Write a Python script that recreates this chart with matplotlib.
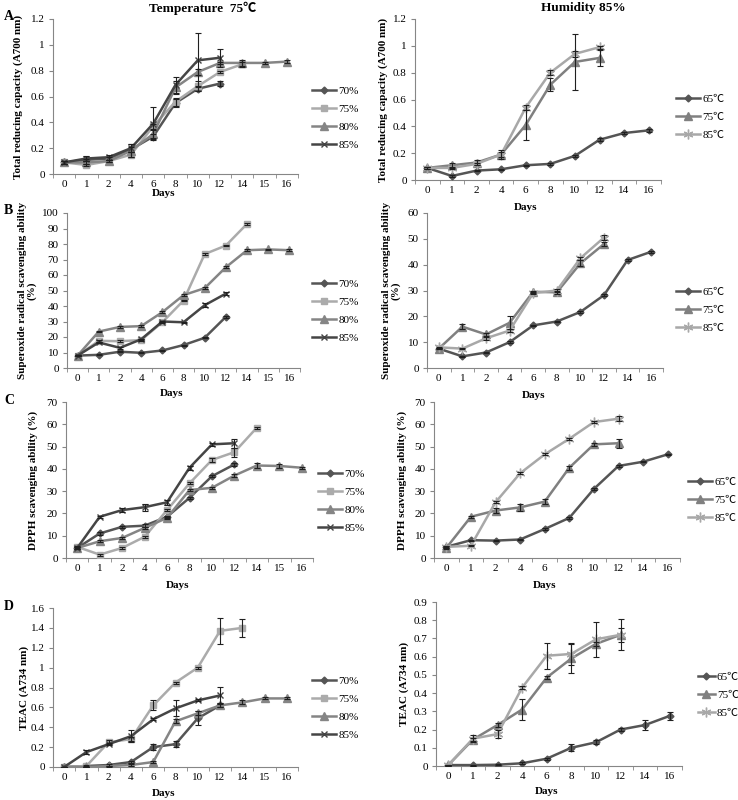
import numpy as np
import matplotlib.pyplot as plt
from matplotlib.ticker import FixedLocator, FuncFormatter

W, H = 738, 800

days_t = ['0', '1', '2', '4', '6', '8', '10', '12', '14', '15', '16']
days_h = ['0', '1', '2', '4', '6', '8', '10', '12', '14', '16']

hum_labels = ['70%', '75%', '80%', '85%']
temp_labels = ['65℃', '75℃', '85℃']

# A - total reducing capacity (A700 nm)
trc_t70 = [0.09, 0.11, 0.12, 0.19, 0.29, 0.55, 0.66, 0.70]
trc_t75 = [0.09, 0.07, 0.10, 0.15, 0.37, 0.56, 0.68, 0.79, 0.85]
trc_t80 = [0.09, 0.09, 0.10, 0.18, 0.31, 0.67, 0.79, 0.86, 0.86, 0.86, 0.87]
trc_t85 = [0.09, 0.12, 0.13, 0.20, 0.39, 0.69, 0.88, 0.90]
trc_t70_err = [0.01, 0.01, 0.01, 0.02, 0.02, 0.03, 0.02, 0.02]
trc_t75_err = [0.01, 0.01, 0.01, 0.02, 0.02, 0.03, 0.04, 0.01, 0.02]
trc_t80_err = [0.01, 0.01, 0.01, 0.05, 0.03, 0.05, 0.02, 0.01, 0.02, 0.01, 0.01]
trc_t85_err = [0.01, 0.02, 0.02, 0.03, 0.13, 0.06, 0.21, 0.07]

trc_h65 = [0.09, 0.03, 0.07, 0.08, 0.11, 0.12, 0.18, 0.30, 0.35, 0.37]
trc_h75 = [0.09, 0.11, 0.13, 0.19, 0.41, 0.71, 0.88, 0.91]
trc_h85 = [0.09, 0.09, 0.12, 0.19, 0.54, 0.80, 0.94, 0.99]
trc_h65_err = [0.005, 0.005, 0.005, 0.005, 0.005, 0.005, 0.01, 0.01, 0.01, 0.01]
trc_h75_err = [0.01, 0.02, 0.02, 0.03, 0.11, 0.05, 0.21, 0.06]
trc_h85_err = [0.01, 0.01, 0.01, 0.02, 0.02, 0.02, 0.02, 0.01]

# B - superoxide radical scavenging ability (%)
sup_t70 = [8, 8.5, 10.5, 9.8, 11.3, 14.8, 19.5, 33]
sup_t75 = [8, 17.5, 17.3, 18, 29.5, 43.5, 73.5, 79, 93]
sup_t80 = [8, 23.5, 26.5, 27, 36, 47, 51.5, 65, 76, 76.5, 76]
sup_t85 = [8, 16.5, 13, 18.5, 30, 29.5, 40.5, 48]
sup_t70_err = [0.3, 0.3, 0.3, 0.3, 0.3, 0.3, 0.4, 0.5]
sup_t75_err = [0.3, 0.5, 0.5, 0.5, 0.5, 0.5, 0.5, 0.5, 0.5]
sup_t80_err = [0.3, 0.5, 0.5, 0.5, 0.5, 0.5, 0.5, 0.5, 0.5, 0.5, 0.5]
sup_t85_err = [0.3, 0.5, 0.5, 0.5, 0.5, 0.5, 1.2, 1.0]

sup_h65 = [7.5, 4.5, 6, 10, 16.5, 18, 21.7, 28.2, 41.8, 45]
sup_h75 = [7.5, 16, 13, 17.5, 29.5, 29.3, 40.5, 48]
sup_h85 = [8, 7.5, 11.5, 14.5, 29, 30, 42.5, 50.5]
sup_h65_err = [0.3, 0.3, 0.3, 0.3, 0.3, 0.3, 0.3, 0.3, 0.3, 0.3]
sup_h75_err = [0.3, 1.0, 0.5, 2.5, 0.5, 0.5, 1.2, 0.8]
sup_h85_err = [0.3, 0.3, 0.5, 0.5, 0.5, 0.5, 0.5, 0.8]

# C - DPPH scavenging ability (%)
dpph_t70 = [4.5, 11, 14, 14.5, 18.5, 27, 36.7, 42]
dpph_t75 = [5, 1.5, 4.5, 9.5, 21.5, 33.5, 44, 47.5, 58.5]
dpph_t80 = [4.5, 7.5, 9, 13.5, 18, 30.5, 31.5, 37, 41.5, 41.3, 40.5]
dpph_t85 = [4.5, 18.5, 21.5, 22.8, 25, 40.5, 51, 51.5]
dpph_t70_err = [0.3, 0.5, 0.5, 0.8, 0.5, 0.5, 0.5, 0.5]
dpph_t75_err = [0.3, 0.5, 0.5, 0.5, 0.5, 0.5, 1.0, 2.0, 0.5]
dpph_t80_err = [0.3, 0.5, 0.5, 0.5, 0.5, 0.5, 0.5, 0.5, 1.0, 1.0, 0.5]
dpph_t85_err = [0.3, 0.5, 1.0, 1.5, 1.2, 0.8, 0.8, 2.0]

dpph_h65 = [5, 8, 7.8, 8.3, 13, 18, 31, 41.3, 43.2, 46.5]
dpph_h75 = [4.5, 18.5, 21.3, 22.7, 25.3, 40.5, 51, 51.5]
dpph_h85 = [5, 5.5, 25, 38, 46.5, 53.5, 61, 62.5]
dpph_h65_err = [0.3, 0.3, 0.3, 0.3, 0.3, 0.3, 0.3, 0.3, 0.3, 0.3]
dpph_h75_err = [0.3, 0.5, 1.0, 1.5, 1.2, 0.8, 0.8, 2.0]
dpph_h85_err = [0.3, 0.3, 0.5, 0.5, 0.5, 0.5, 0.5, 1.2]

# D - TEAC (A734 nm)
teac_t70 = [0.0, 0.01, 0.02, 0.05, 0.20, 0.23, 0.49, 0.62]
teac_t75 = [0.0, 0.01, 0.25, 0.28, 0.62, 0.85, 1.00, 1.37, 1.40]
teac_t80 = [0.0, 0.0, 0.01, 0.02, 0.05, 0.46, 0.54, 0.62, 0.65, 0.69, 0.69]
teac_t85 = [0.0, 0.15, 0.23, 0.31, 0.48, 0.59, 0.67, 0.72]
teac_t70_err = [0.005, 0.005, 0.01, 0.01, 0.03, 0.03, 0.07, 0.02]
teac_t75_err = [0.005, 0.01, 0.02, 0.02, 0.05, 0.01, 0.01, 0.13, 0.09]
teac_t80_err = [0.005, 0.005, 0.005, 0.01, 0.01, 0.02, 0.02, 0.02, 0.02, 0.01, 0.01]
teac_t85_err = [0.005, 0.02, 0.01, 0.06, 0.01, 0.08, 0.01, 0.09]

teac_h65 = [0.005, 0.005, 0.007, 0.015, 0.04, 0.10, 0.13, 0.20, 0.225, 0.275]
teac_h75 = [0.005, 0.145, 0.225, 0.31, 0.485, 0.59, 0.67, 0.72]
teac_h85 = [0.005, 0.15, 0.175, 0.43, 0.605, 0.615, 0.695, 0.72]
teac_h65_err = [0.003, 0.003, 0.003, 0.005, 0.005, 0.02, 0.01, 0.01, 0.025, 0.02]
teac_h75_err = [0.003, 0.01, 0.01, 0.06, 0.01, 0.08, 0.01, 0.04]
teac_h85_err = [0.003, 0.02, 0.02, 0.01, 0.07, 0.06, 0.095, 0.085]

plt.rcParams['font.family'] = ['Liberation Serif', 'Noto Sans CJK SC', 'DejaVu Serif']

sty_t = [
    dict(color='#555555', marker='D', ms=3.5),
    dict(color='#ababab', marker='s', ms=5),
    dict(color='#858585', marker='^', ms=5.5),
    dict(color='#454545', marker='x', ms=5, mew=1.0),
]
sty_h = [
    dict(color='#555555', marker='D', ms=3.5),
    dict(color='#808080', marker='^', ms=5.5),
    dict(color='#a8a8a8', marker=(6, 2, 0), ms=7, mew=1.0),
]


def rect(l, t, r, b):
    return [l / W, 1 - b / H, (r - l) / W, (b - t) / H]


def panel(box, days, series, errs, labels, styles, ymax, ystep, ylabel,
          ylab_x, xlab_y, leg_xy, hlen=2.2):
    l, t, r, b = box
    ax = fig.add_axes(rect(l, t, r, b))
    n = len(days)
    for vals, err, lab, st in zip(series, errs, labels, styles):
        x = np.arange(len(vals))
        ax.plot(x, vals, lw=1.8, label=lab, color=st['color'],
                marker=st['marker'], ms=st['ms'], mew=st.get('mew', 1.0),
                mfc=st['color'], mec=st['color'], zorder=3)
        ax.errorbar(x, vals, yerr=err, fmt='none', ecolor='#202020',
                    elinewidth=0.8, capsize=2, capthick=0.8, zorder=4)
    ax.set_xlim(-0.5, n - 0.5)
    ax.set_ylim(0, ymax)
    ax.set_xticks(np.arange(n))
    ax.set_xticklabels(days)
    ax.xaxis.set_minor_locator(FixedLocator(np.arange(n + 1) - 0.5))
    ax.set_yticks(np.arange(0, ymax + ystep / 2, ystep))
    ax.yaxis.set_major_formatter(FuncFormatter(lambda v, p: f'{v:g}'))
    ax.tick_params(axis='x', which='major', length=0, labelsize=8, pad=4)
    ax.tick_params(axis='x', which='minor', length=3, color='#868686')
    ax.tick_params(axis='y', length=3, color='#868686', labelsize=8, pad=3)
    for s in ['top', 'right']:
        ax.spines[s].set_visible(False)
    for s in ['left', 'bottom']:
        ax.spines[s].set_color('#868686')
        ax.spines[s].set_linewidth(0.8)
    ax.set_ylabel(ylabel, fontsize=8, fontweight='bold', va='center',
                  linespacing=1.0)
    ax.yaxis.set_label_coords((ylab_x - l) / (r - l), 0.5)
    ax.set_xlabel('Days', fontsize=8, fontweight='bold', va='center')
    ax.xaxis.set_label_coords(0.45, (b - xlab_y) / (b - t))
    fig.legend(*ax.get_legend_handles_labels(), loc='upper left',
               bbox_to_anchor=(leg_xy[0] / W, 1 - leg_xy[1] / H),
               frameon=False, fontsize=8, handlelength=hlen, handletextpad=0.2,
               labelspacing=0.75, borderpad=0, borderaxespad=0)
    return ax


fig = plt.figure(figsize=(W / 100, H / 100), dpi=100)

# row A
panel((53, 19, 298, 174), days_t, [trc_t70, trc_t75, trc_t80, trc_t85],
      [trc_t70_err, trc_t75_err, trc_t80_err, trc_t85_err], hum_labels, sty_t,
      1.2, 0.2, 'Total reducing capacity (A700 nm)', 18, 193, (312, 86))
panel((415, 19, 661, 180), days_h, [trc_h65, trc_h75, trc_h85],
      [trc_h65_err, trc_h75_err, trc_h85_err], temp_labels, sty_h,
      1.2, 0.2, 'Total reducing capacity (A700 nm)', 383, 208, (676, 94))

# row B
panel((67, 213, 300, 368), days_t, [sup_t70, sup_t75, sup_t80, sup_t85],
      [sup_t70_err, sup_t75_err, sup_t80_err, sup_t85_err], hum_labels, sty_t,
      100, 10, 'Superoxide radical scavenging ability\n(%)', 27, 393, (312, 279))
panel((427, 213, 663, 368), days_h, [sup_h65, sup_h75, sup_h85],
      [sup_h65_err, sup_h75_err, sup_h85_err], temp_labels, sty_h,
      60, 10, 'Superoxide radical scavenging ability\n(%)', 391, 395, (676, 287))

# row C
panel((66, 402, 313, 558), days_t, [dpph_t70, dpph_t75, dpph_t80, dpph_t85],
      [dpph_t70_err, dpph_t75_err, dpph_t80_err, dpph_t85_err], hum_labels, sty_t,
      70, 10, 'DPPH scavenging ability (%)', 33, 585, (318, 469))
panel((434, 402, 680, 558), days_h, [dpph_h65, dpph_h75, dpph_h85],
      [dpph_h65_err, dpph_h75_err, dpph_h85_err], temp_labels, sty_h,
      70, 10, 'DPPH scavenging ability (%)', 402, 586, (688, 477))

# row D
panel((53, 608, 298, 767), days_t, [teac_t70, teac_t75, teac_t80, teac_t85],
      [teac_t70_err, teac_t75_err, teac_t80_err, teac_t85_err], hum_labels, sty_t,
      1.6, 0.2, 'TEAC (A734 nm)', 24, 793, (312, 676))
panel((436, 602, 682, 766), days_h, [teac_h65, teac_h75, teac_h85],
      [teac_h65_err, teac_h75_err, teac_h85_err], temp_labels, sty_h,
      0.9, 0.1, 'TEAC (A734 nm)', 404, 792, (698, 672), hlen=1.5)

fig.text(203 / W, 1 - 8 / H, 'Temperature  75℃', ha='center', va='center',
         fontsize=9.5, fontweight='bold')
fig.text(583 / W, 1 - 8 / H, 'Humidity 85%', ha='center', va='center',
         fontsize=9.5, fontweight='bold')
for letter, y in [('A', 16), ('B', 211), ('C', 400), ('D', 607)]:
    fig.text(4 / W, 1 - y / H, letter, ha='left', va='center',
             fontsize=10, fontweight='bold')

fig.savefig('out.png', dpi=100, facecolor='white')
